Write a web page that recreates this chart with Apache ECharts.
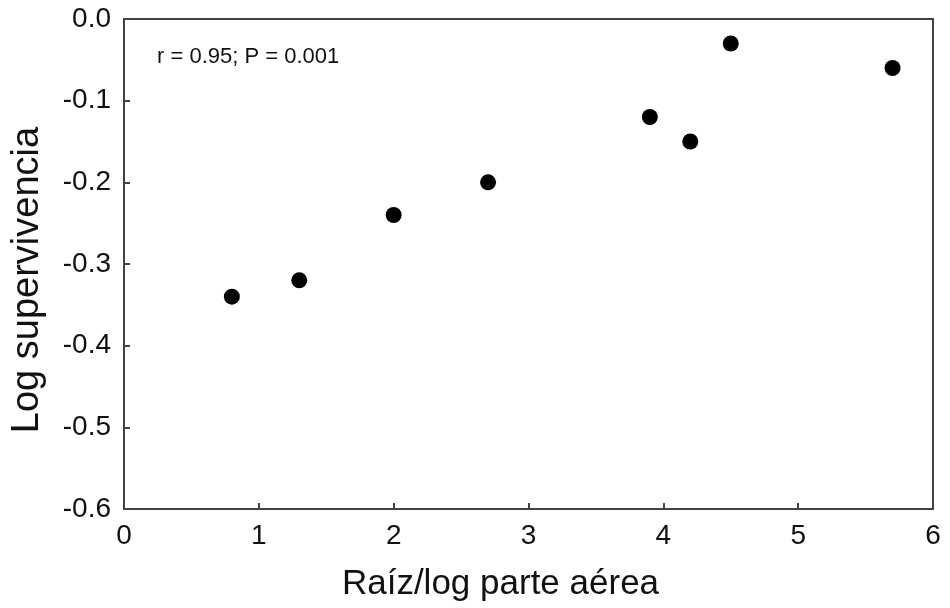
<!DOCTYPE html>
<html><head><meta charset="utf-8">
<script src="https://cdn.jsdelivr.net/npm/echarts@6/dist/echarts.min.js"></script>
<style>html,body{margin:0;padding:0;background:#fff}#c{width:950px;height:608px}</style>
</head><body><div id="c"></div>
<script>
const xValues = [0.8, 1.3, 2.0, 2.7, 3.9, 4.2, 4.5, 5.7];
const yValues = [-0.34, -0.32, -0.24, -0.20, -0.12, -0.15, -0.03, -0.06];
const xTitle = 'Raíz/log parte aérea';
const yTitle = 'Log supervivencia';
const note = 'r = 0.95; P = 0.001';

const chart = echarts.init(document.getElementById('c'));
const font = 'Liberation Sans, Arial, sans-serif';
const axisLine = {show: true, onZero: false, lineStyle: {color: '#444', width: 2}};
const tick = {show: true, inside: true, length: 6, lineStyle: {color: '#444', width: 2}};
chart.setOption({
  animation: false,
  grid: {left: 124, top: 19, right: 17, bottom: 99, containLabel: false, outerBoundsMode: 'none',
    show: true, borderColor: '#444', borderWidth: 2},
  xAxis: {
    type: 'value', min: 0, max: 6, interval: 1,
    axisLine: axisLine, axisTick: tick,
    splitLine: {show: false},
    axisLabel: {color: '#111', fontSize: 28, fontFamily: font, margin: 13},
    name: xTitle, nameLocation: 'middle', nameGap: 58,
    nameTextStyle: {color: '#111', fontSize: 35, fontFamily: font, padding: [0, 56, 0, 0]}
  },
  yAxis: {
    type: 'value', min: -0.6, max: 0, interval: 0.1,
    axisLine: axisLine, axisTick: tick,
    splitLine: {show: false},
    axisLabel: {color: '#111', fontSize: 28, fontFamily: font, margin: 13,
      formatter: v => v.toFixed(1)},
    name: yTitle, nameLocation: 'middle', nameGap: 77,
    nameTextStyle: {color: '#111', fontSize: 38, fontFamily: font, padding: [0, 32, 0, 0]}
  },
  graphic: [{type: 'text', left: 157, top: 46,
    style: {text: note, fontSize: 22, fontFamily: font, fill: '#111'}}],
  series: [{
    type: 'scatter', symbol: 'circle', symbolSize: 16,
    itemStyle: {color: '#000', opacity: 1},
    data: xValues.map((x, i) => [x, yValues[i]])
  }]
});
</script></body></html>
